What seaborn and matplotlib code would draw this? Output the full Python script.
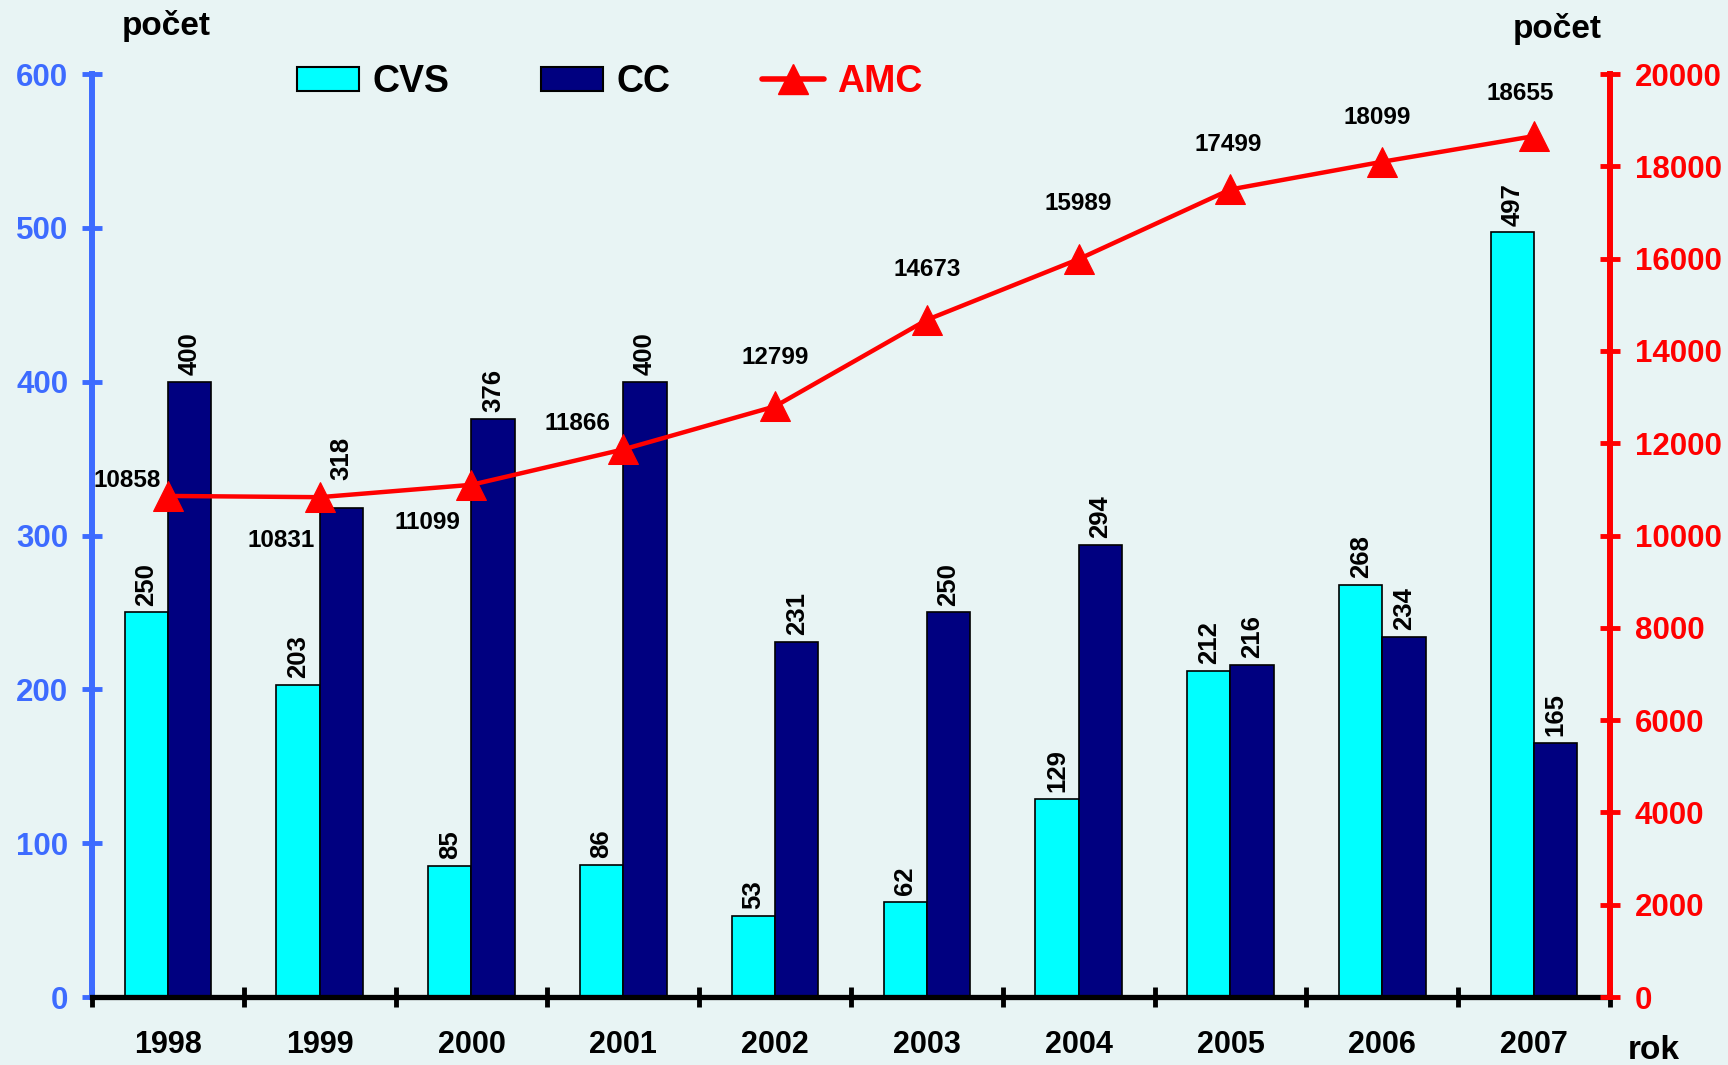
import numpy as np
import pandas as pd
import matplotlib
matplotlib.use("Agg")
import matplotlib.pyplot as plt
from matplotlib.patches import Patch
from matplotlib.lines import Line2D
import seaborn as sns

years = ["1998", "1999", "2000", "2001", "2002", "2003", "2004", "2005", "2006", "2007"]
cvs = [250, 203, 85, 86, 53, 62, 129, 212, 268, 497]
cc = [400, 318, 376, 400, 231, 250, 294, 216, 234, 165]
amc = [10858, 10831, 11099, 11866, 12799, 14673, 15989, 17499, 18099, 18655]

# label offsets (points) for AMC values
amc_off = [(-29, 11), (-28, -31), (-32, -27), (-33, 19), (0, 35),
           (0, 36), (0, 40), (-2, 32), (-4, 32), (-10, 31)]

BLUE = "#3d6bff"
RED = "#ff0000"
BG = "#e8f4f4"

sns.set_theme(style="white")
plt.rcParams["font.family"] = ["Liberation Sans", "DejaVu Sans"]
plt.rcParams["font.weight"] = "bold"
plt.rcParams["text.color"] = "black"
plt.rcParams["xtick.color"] = "black"
plt.rcParams["xtick.labelcolor"] = "black"

df = pd.DataFrame({
    "rok": years * 2,
    "pocet": cvs + cc,
    "serie": ["CVS"] * len(years) + ["CC"] * len(years),
})

fig = plt.figure(figsize=(17.28, 10.65), dpi=100, facecolor=BG)
ax = fig.add_axes([0.0532, 0.0638, 0.9317 - 0.0532, 0.9305 - 0.0638])
ax.set_facecolor("none")

sns.barplot(data=df, x="rok", y="pocet", hue="serie", hue_order=["CVS", "CC"],
            palette={"CVS": "#00ffff", "CC": "#000080"}, width=0.57, gap=0,
            edgecolor="black", linewidth=1.2, saturation=1, legend=False, ax=ax)

for k, cont in enumerate(ax.containers):
    for i, bar in enumerate(cont):
        h = bar.get_height()
        lift = 20 if (k == 1 and i == 1) else 5  # 1999 CC label sits above the marker
        ax.annotate(f"{int(h)}", (bar.get_x() + bar.get_width() / 2, h),
                    xytext=(0, lift), textcoords="offset points", rotation=90,
                    ha="center", va="bottom", fontsize=18.5, fontweight="bold",
                    color="black")

ax.set_xlim(-0.5, len(years) - 0.5)
ax.set_ylim(0, 600)
ax.set_yticks(range(0, 601, 100))
ax.set_xticks(np.arange(-0.5, len(years), 1))
ax.set_xticklabels([])
ax.set_xticks(np.arange(len(years)), minor=True)
ax.set_xticklabels(years, minor=True)
ax.set_xlabel("")
ax.set_ylabel("")

ax.tick_params(axis="x", which="major", direction="inout", length=14, width=3.5,
               color="black", bottom=True)
ax.tick_params(axis="x", which="minor", length=0, pad=24, labelsize=22,
               labelcolor="black")
ax.tick_params(axis="y", direction="inout", length=14, width=3.5, color=BLUE,
               labelcolor=BLUE, labelsize=22.5, pad=10, left=True)
for lab in ax.get_xticklabels(minor=True) + ax.get_yticklabels():
    lab.set_fontweight("bold")

ax.spines["left"].set_color(BLUE)
ax.spines["left"].set_linewidth(4.3)
ax.spines["bottom"].set_color("black")
ax.spines["bottom"].set_linewidth(3.8)
ax.spines["top"].set_visible(False)
ax.spines["right"].set_visible(False)
ax.spines["bottom"].set_zorder(5)

ax2 = ax.twinx()
sns.lineplot(x=np.arange(len(years)), y=amc, ax=ax2, color=RED, linewidth=3.2,
             marker="^", markersize=21, markeredgecolor=RED, legend=False)
ax2.set_ylim(0, 20000)
ax2.set_yticks(range(0, 20001, 2000))
ax2.set_xlim(-0.5, len(years) - 0.5)
ax2.tick_params(axis="y", direction="inout", length=14, width=3.5, color=RED,
                labelcolor=RED, labelsize=22.5, pad=11, right=True)
for lab in ax2.get_yticklabels():
    lab.set_fontweight("bold")
for s in ["left", "top", "bottom"]:
    ax2.spines[s].set_visible(False)
ax2.spines["right"].set_color(RED)
ax2.spines["right"].set_linewidth(4.3)

for i, v in enumerate(amc):
    ax2.annotate(str(v), (i, v), xytext=amc_off[i], textcoords="offset points",
                 ha="center", va="center", fontsize=17.5, fontweight="bold",
                 color="black")

fig.text(0.096, 0.967, "počet", ha="center", va="baseline", fontsize=24, fontweight="bold")
fig.text(0.901, 0.964, "počet", ha="center", va="baseline", fontsize=24, fontweight="bold")
fig.text(0.957, 0.006, "rok", ha="center", va="baseline", fontsize=24, fontweight="bold")

handles = [
    Patch(facecolor="#00ffff", edgecolor="black", linewidth=1.5),
    Patch(facecolor="#000080", edgecolor="black", linewidth=1.5),
    Line2D([], [], color=RED, linewidth=4, marker="^", markersize=21),
]
leg = fig.legend(handles, ["CVS", "CC", "AMC"], loc="center left",
                 bbox_to_anchor=(0.172, 0.923), ncol=3, frameon=False,
                 borderpad=0, borderaxespad=0, handlelength=1.65, handleheight=0.6,
                 handletextpad=0.35, columnspacing=2.45,
                 prop={"size": 27, "weight": "bold"})
for t in leg.get_texts():
    t.set_color("black")
leg.get_texts()[2].set_color(RED)

fig.savefig("out.png", dpi=100, facecolor=BG)
